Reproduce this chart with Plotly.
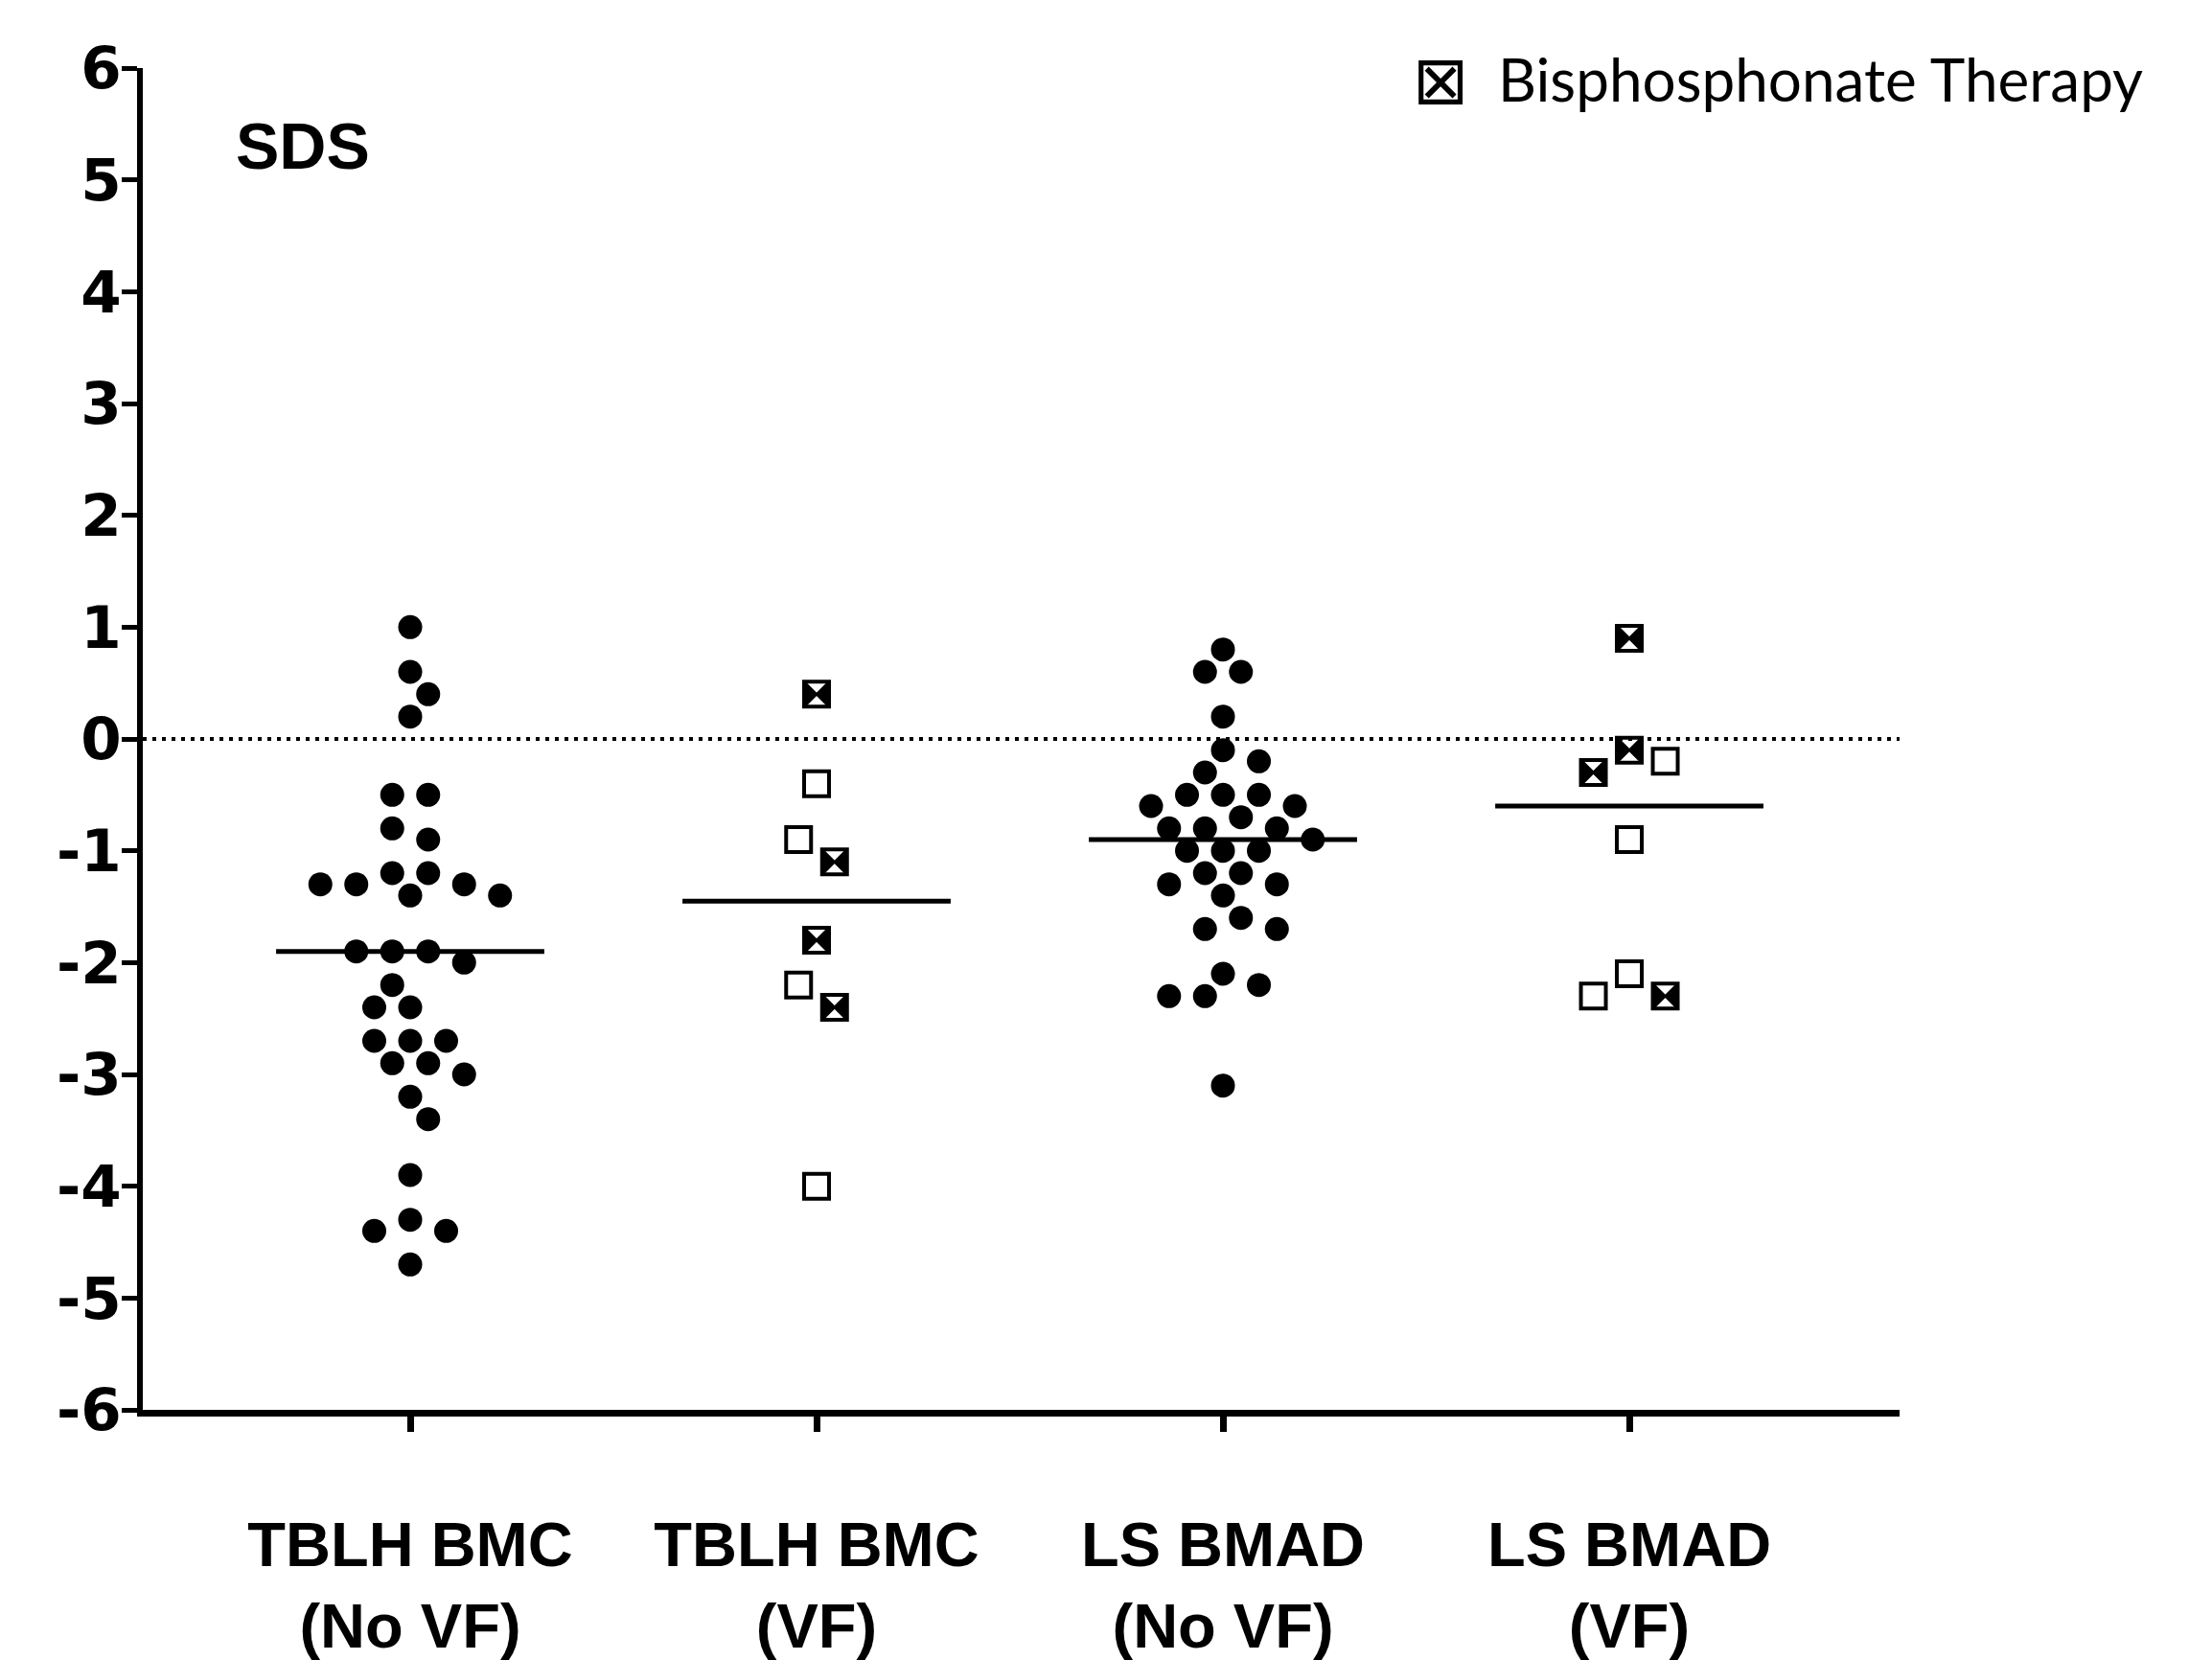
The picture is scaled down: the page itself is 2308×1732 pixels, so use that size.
import numpy as np
import plotly.graph_objects as go

# ---------------- data ----------------
categories = ["TBLH BMC<br>(No VF)", "TBLH BMC<br>(VF)", "LS BMAD<br>(No VF)", "LS BMAD<br>(VF)"]

tblh_bmc_no_vf = [1.0, 0.6, 0.4, 0.2, -0.5, -0.5, -0.8, -0.9, -1.2, -1.2, -1.3, -1.3, -1.3,
                  -1.4, -1.4, -1.9, -1.9, -1.9, -2.0, -2.2, -2.4, -2.4, -2.7, -2.7, -2.7,
                  -2.9, -2.9, -3.0, -3.2, -3.4, -3.9, -4.3, -4.4, -4.4, -4.7]
tblh_bmc_vf = [0.4, -0.4, -0.9, -1.1, -1.8, -2.2, -2.4, -4.0]
tblh_bmc_vf_bisphosphonate = [True, False, False, True, True, False, True, False]

ls_bmad_no_vf = [0.8, 0.6, 0.6, 0.2, -0.1, -0.2, -0.3, -0.5, -0.5, -0.5, -0.6, -0.6, -0.7,
                 -0.8, -0.8, -0.8, -0.9, -1.0, -1.0, -1.0, -1.2, -1.2, -1.3, -1.3, -1.4,
                 -1.6, -1.7, -1.7, -2.1, -2.2, -2.3, -2.3, -3.1]
ls_bmad_vf = [0.9, -0.1, -0.2, -0.3, -0.9, -2.1, -2.3, -2.3]
ls_bmad_vf_bisphosphonate = [True, True, False, True, False, False, True, False]

y_tick_values = [-6, -5, -4, -3, -2, -1, 0, 1, 2, 3, 4, 5, 6]
y_tick_labels = ["-6", "-5", "-4", "-3", "-2", "-1", "0", "1", "2", "3", "4", "5", "6"]
reference_sds = 0
legend_label = "Bisphosphonate Therapy"
y_label = "SDS"

# ---------------- layout geometry / styles ----------------
PAGE_OFFSET = 8                    # browser body margin
VIEW_W, VIEW_H = 2308, 1732
W, H = VIEW_W - PAGE_OFFSET, VIEW_H - PAGE_OFFSET
# plot area in page pixels
P_LEFT, P_RIGHT, P_TOP, P_BOTTOM = 149, 1982, 71, 1471
M_L = P_LEFT - PAGE_OFFSET
M_T = P_TOP - PAGE_OFFSET
M_R = W - (P_RIGHT - PAGE_OFFSET)
M_B = H - (P_BOTTOM - PAGE_OFFSET)
X_RANGE = [-0.658, 3.665]
Y_RANGE = [-6, 6]
PX_PER_X = (P_RIGHT - P_LEFT) / (X_RANGE[1] - X_RANGE[0])
PX_PER_Y = (P_BOTTOM - P_TOP) / (Y_RANGE[1] - Y_RANGE[0])
STEP_PX = 18.75          # horizontal swarm step
DOT_SIZE = 25
SQ_SIZE = 26
SQ_LINE = 4
MEDIAN_HALF = 0.33


def paper_x(px):
    return (px - P_LEFT) / (P_RIGHT - P_LEFT)


def paper_y(py):
    return (P_BOTTOM - py) / (P_BOTTOM - P_TOP)


def swarm_offsets(values, diameter_px, shape="circle"):
    """Deterministic beeswarm: each point goes to the nearest free slot."""
    vals = np.asarray(values, float)
    order = np.argsort(-vals, kind="stable")
    placed = []
    off = np.zeros(len(vals))

    def collide(x, y, px, py):
        if shape == "circle":
            return (x - px) ** 2 + (y - py) ** 2 < diameter_px ** 2 - 1e-6
        return abs(x - px) < diameter_px - 1e-6 and abs(y - py) < diameter_px - 1e-6

    for i in order:
        y = vals[i] * PX_PER_Y
        k = 0
        found = None
        while found is None:
            for s in ([0] if k == 0 else [k, -k]):
                x = s * STEP_PX
                if not any(collide(x, y, px, py) for px, py in placed):
                    found = x
                    break
            k += 1
        placed.append((found, y))
        off[i] = found

    # centre each cluster of vertically-touching points
    sidx = list(order)
    clusters, cur = [], [sidx[0]]
    for a, b in zip(sidx[:-1], sidx[1:]):
        if (vals[a] - vals[b]) * PX_PER_Y < diameter_px:
            cur.append(b)
        else:
            clusters.append(cur)
            cur = [b]
    clusters.append(cur)
    for c in clusters:
        shift = -round(np.mean(off[c]) / STEP_PX) * STEP_PX
        off[c] += shift
    return off / PX_PER_X


fig = go.Figure()


def add_dots(cat_index, values):
    xs = cat_index + swarm_offsets(values, DOT_SIZE, "circle")
    fig.add_trace(go.Scatter(
        x=xs, y=values, mode="markers", showlegend=False, hoverinfo="y",
        marker=dict(symbol="circle", size=DOT_SIZE, color="black", line=dict(width=0))))


def add_squares(cat_index, values, bisph):
    xs = cat_index + swarm_offsets(values, SQ_SIZE + SQ_LINE, "square")
    vals = np.asarray(values, float)
    b = np.asarray(bisph, bool)
    fig.add_trace(go.Scatter(
        x=xs, y=vals, mode="markers", showlegend=False, hoverinfo="y",
        marker=dict(symbol="square-open", size=SQ_SIZE, color="black",
                    line=dict(width=SQ_LINE, color="black"))))
    fig.add_trace(go.Scatter(
        x=xs[b], y=vals[b], mode="markers", showlegend=False, hoverinfo="skip",
        marker=dict(symbol="bowtie", size=SQ_SIZE - 2, color="black",
                    line=dict(width=2.5, color="black"))))


def add_median(cat_index, values):
    m = float(np.median(values))
    fig.add_trace(go.Scatter(
        x=[cat_index - MEDIAN_HALF, cat_index + MEDIAN_HALF], y=[m, m],
        mode="lines", showlegend=False, hoverinfo="skip",
        line=dict(color="black", width=5)))


add_median(0, tblh_bmc_no_vf)
add_median(1, tblh_bmc_vf)
add_median(2, ls_bmad_no_vf)
add_median(3, ls_bmad_vf)

add_dots(0, tblh_bmc_no_vf)
add_squares(1, tblh_bmc_vf, tblh_bmc_vf_bisphosphonate)
add_dots(2, ls_bmad_no_vf)
add_squares(3, ls_bmad_vf, ls_bmad_vf_bisphosphonate)

fig.add_shape(type="line", xref="paper", x0=0, x1=1, yref="y", y0=reference_sds, y1=reference_sds,
              line=dict(color="black", width=4, dash="4px,6px"), layer="below")

fig.update_layout(
    width=W, height=H,
    margin=dict(l=M_L, r=M_R, t=M_T, b=M_B, pad=0, autoexpand=False),
    paper_bgcolor="white", plot_bgcolor="white",
    showlegend=False,
    xaxis=dict(
        range=X_RANGE, tickmode="array", tickvals=list(range(len(categories))),
        ticktext=categories, showgrid=False, zeroline=False, automargin=False,
        showline=True, linecolor="black", linewidth=7,
        ticks="outside", ticklen=16, tickwidth=7, tickcolor="black",
        ticklabelstandoff=62,
        tickfont=dict(family="Liberation Sans", size=65, color="black", weight="bold"),
    ),
    yaxis=dict(
        range=Y_RANGE, tickmode="array", tickvals=y_tick_values, ticktext=y_tick_labels,
        showgrid=False, zeroline=False, automargin=False,
        showline=True, linecolor="black", linewidth=6,
        ticks="outside", ticklen=16, tickwidth=5, tickcolor="black",
        ticklabelstandoff=-12,
        tickfont=dict(family="DejaVu Sans", size=61, color="black", weight="bold"),
    ),
    annotations=[
        dict(text=y_label, xref="paper", yref="paper", x=paper_x(316), y=paper_y(152),
             xanchor="center", yanchor="middle", showarrow=False,
             font=dict(family="Liberation Sans", size=68, color="black", weight="bold")),
        dict(text="\u22a0", xref="paper", yref="paper", x=paper_x(1503), y=paper_y(84),
             xanchor="center", yanchor="middle", showarrow=False,
             font=dict(family="DejaVu Sans", size=70, color="black")),
        dict(text=legend_label, xref="paper", yref="paper", x=paper_x(1561), y=paper_y(82),
             xanchor="left", yanchor="middle", showarrow=False,
             font=dict(family="Lato", size=62, color="black")),
    ],
)

fig.write_html("out.html")
